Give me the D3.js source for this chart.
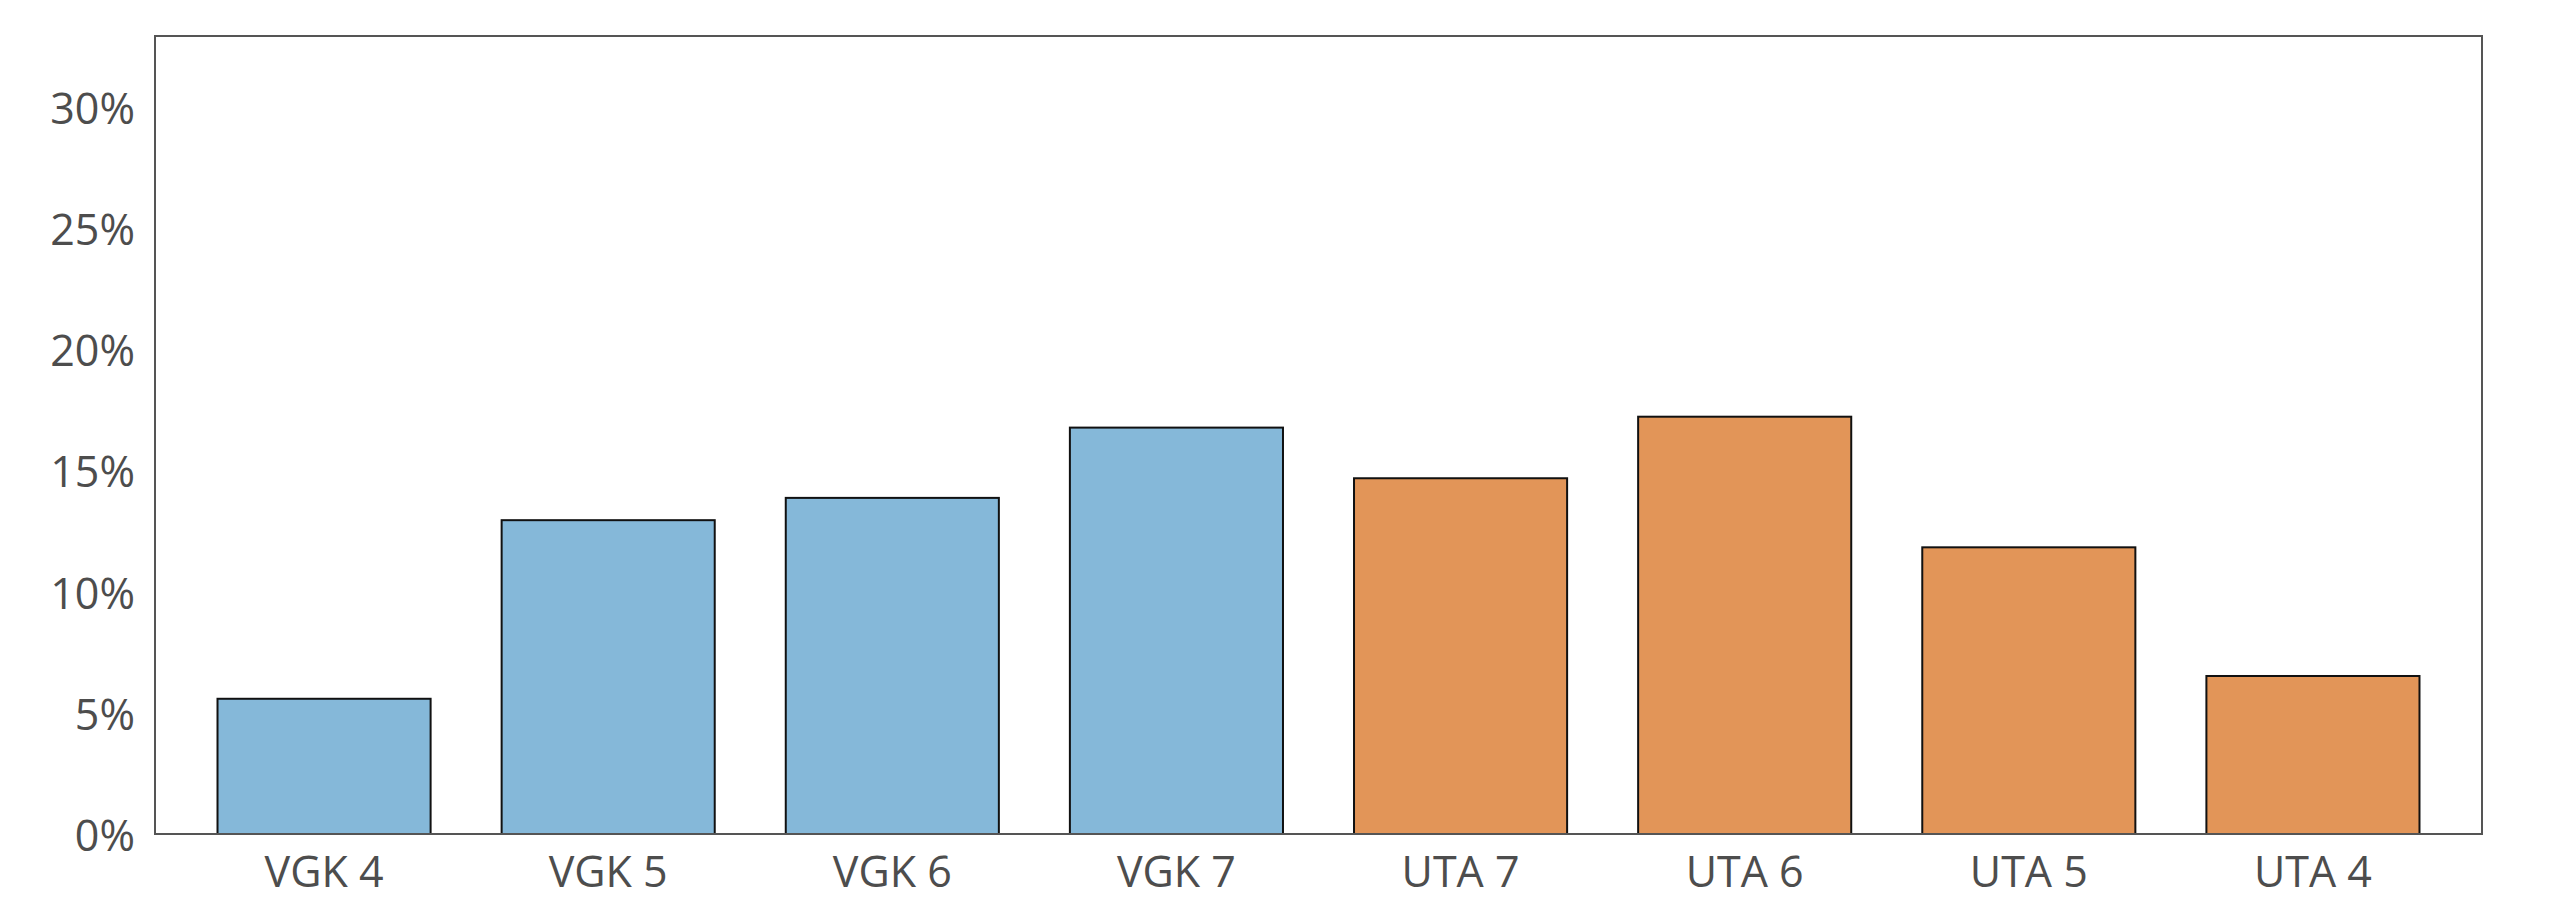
<!DOCTYPE html>
<html>
<head>
<meta charset="utf-8">
<script src="https://cdn.jsdelivr.net/npm/d3@7"></script>
<style>
  html, body { margin: 0; padding: 0; background: #ffffff; }
  svg { display: block; }
  text { font-family: "Open Sans", "Noto Sans", sans-serif; }
</style>
</head>
<body>
<svg id="chart" width="2560" height="921"></svg>
<script>
const categories = ["VGK 4", "VGK 5", "VGK 6", "VGK 7", "UTA 7", "UTA 6", "UTA 5", "UTA 4"];
const values = [0.0558, 0.1295, 0.1387, 0.1677, 0.1468, 0.1722, 0.1183, 0.0652];
const teams = ["VGK", "VGK", "VGK", "VGK", "UTA", "UTA", "UTA", "UTA"];
const teamColors = { VGK: "#85b8d9", UTA: "#e29558" };
const yTicks = [0, 0.05, 0.10, 0.15, 0.20, 0.25, 0.30];
const yTickLabels = ["0%", "5%", "10%", "15%", "20%", "25%", "30%"];

const W = 2560, H = 921;
const margin = { left: 155, right: 78, top: 36, bottom: 87 };
const plotW = W - margin.left - margin.right;
const plotH = H - margin.top - margin.bottom;

const svg = d3.select("#chart");
const g = svg.append("g").attr("transform", `translate(${margin.left},${margin.top})`);

const x = d3.scaleBand()
  .domain(categories)
  .range([0, plotW])
  .paddingInner(0.25)
  .paddingOuter(0.22);

const y = d3.scaleLinear()
  .domain([0, 0.3293])
  .range([plotH, 0]);

// bars
g.selectAll("rect.bar")
  .data(categories)
  .enter().append("rect")
  .attr("class", "bar")
  .attr("x", d => x(d))
  .attr("width", x.bandwidth())
  .attr("y", (d, i) => y(values[i]))
  .attr("height", (d, i) => y(0) - y(values[i]))
  .attr("fill", (d, i) => teamColors[teams[i]])
  .attr("stroke", "#111111")
  .attr("stroke-width", 2);

// frame
g.append("rect")
  .attr("x", 0).attr("y", 0)
  .attr("width", plotW).attr("height", plotH)
  .attr("fill", "none")
  .attr("stroke", "#555555")
  .attr("stroke-width", 2);

// y axis
const yAxis = d3.axisLeft(y)
  .tickValues(yTicks)
  .tickFormat((d, i) => yTickLabels[i])
  .tickSize(0)
  .tickPadding(20);
const yg = g.append("g").call(yAxis);
yg.select(".domain").remove();
yg.selectAll("text")
  .attr("fill", "#4d4d4d")
  .style("font-size", "43px")
  .attr("dy", "0.38em");

// x axis
const xAxis = d3.axisBottom(x).tickSize(0).tickPadding(22);
const xg = g.append("g").attr("transform", `translate(0,${plotH})`).call(xAxis);
xg.select(".domain").remove();
xg.selectAll("text")
  .attr("fill", "#4d4d4d")
  .style("font-size", "43px");
</script>
</body>
</html>
